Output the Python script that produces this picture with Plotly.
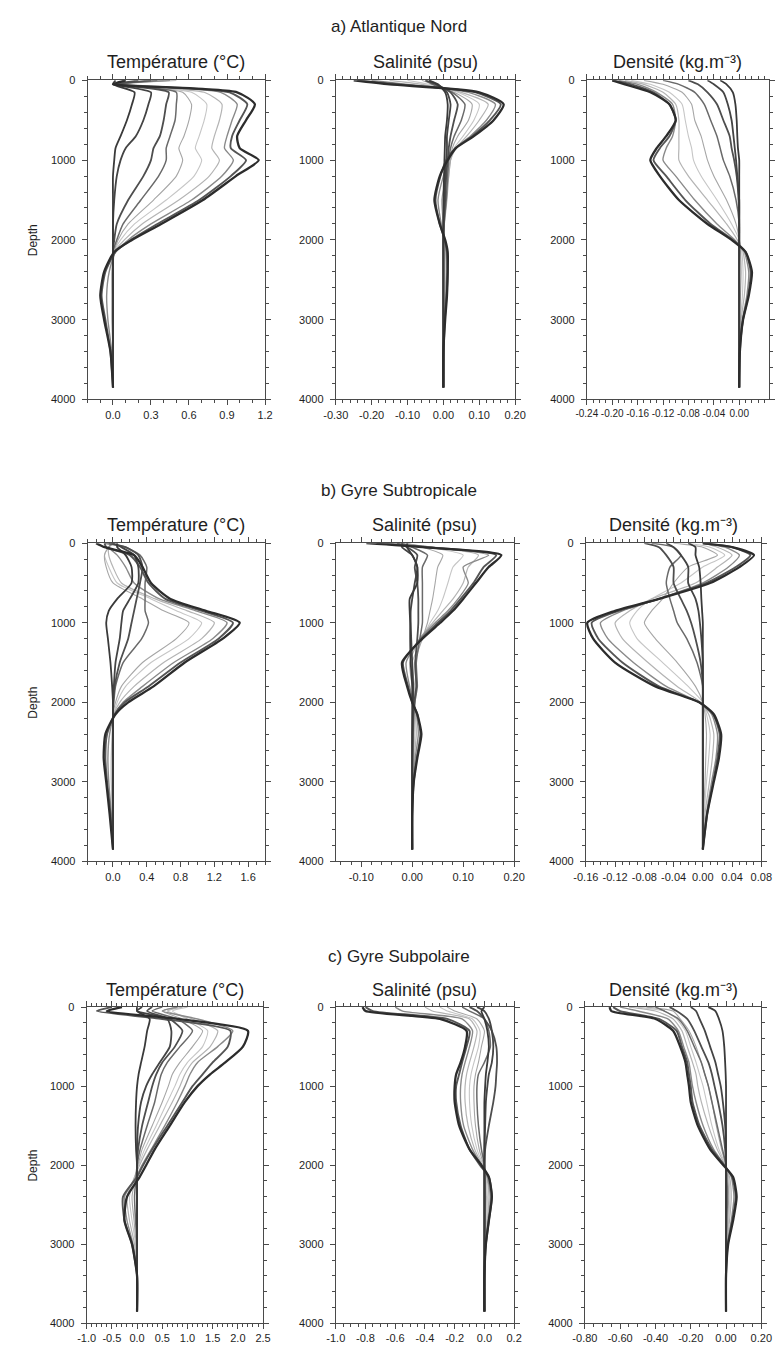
import plotly.graph_objects as go

# ---------------- data ----------------
DEPTH = [0, 50, 150, 300, 500, 700, 850, 1000, 1200, 1500, 1800, 2000, 2150, 2400, 2700, 3000, 3400, 3850]

REGIONS = ["a) Atlantique Nord", "b) Gyre Subtropicale", "c) Gyre Subpolaire"]
VARIABLES = ["Température (°C)", "Salinité (psu)", "Densité (kg.m⁻³)"]

temp_nord = [
    [0.02, 0.0, 0.17, 0.15, 0.11, 0.06, 0.02, 0.01, 0.0, 0.0, 0.0, 0.0, 0.0, 0.0, 0.0, 0.0, 0.0, 0.0],
    [0.1, 0.02, 0.30, 0.28, 0.24, 0.18, 0.10, 0.06, 0.03, 0.01, 0.0, 0.0, 0.0, 0.0, 0.0, 0.0, 0.0, 0.0],
    [0.2, 0.03, 0.44, 0.42, 0.40, 0.37, 0.32, 0.30, 0.24, 0.12, 0.03, 0.01, 0.0, 0.0, 0.0, 0.0, 0.0, 0.0],
    [0.35, 0.04, 0.50, 0.50, 0.49, 0.45, 0.42, 0.42, 0.36, 0.22, 0.08, 0.03, 0.0, 0.0, 0.0, 0.0, 0.0, 0.0],
    [0.4, 0.05, 0.55, 0.62, 0.60, 0.56, 0.52, 0.55, 0.50, 0.32, 0.12, 0.04, 0.01, 0.0, 0.0, 0.0, 0.0, 0.0],
    [0.45, 0.05, 0.62, 0.74, 0.72, 0.68, 0.65, 0.70, 0.64, 0.42, 0.17, 0.06, 0.01, 0.0, 0.0, 0.0, 0.0, 0.0],
    [0.5, 0.05, 0.72, 0.86, 0.84, 0.80, 0.78, 0.84, 0.76, 0.52, 0.23, 0.09, 0.01, -0.01, -0.01, -0.01, 0.0, 0.0],
    [0.45, 0.05, 0.85, 0.98, 0.94, 0.90, 0.88, 0.95, 0.86, 0.62, 0.30, 0.12, 0.02, -0.03, -0.05, -0.04, -0.01, 0.0],
    [0.3, 0.03, 0.92, 1.06, 1.00, 0.94, 0.93, 1.05, 0.93, 0.68, 0.35, 0.14, 0.02, -0.06, -0.09, -0.06, -0.02, 0.0],
    [0.1, 0.0, 0.98, 1.12, 1.05, 0.98, 1.00, 1.15, 0.97, 0.71, 0.38, 0.15, 0.01, -0.07, -0.10, -0.07, -0.02, 0.0],
]
sal_nord = [
    [-0.04, -0.015, 0.005, 0.012, 0.01, 0.005, 0.004, 0.003, 0.002, 0.0, 0.0, 0.0, 0.0, 0.0, 0.0, 0.0, 0.0, 0.0],
    [-0.05, -0.02, 0.01, 0.02, 0.015, 0.01, 0.01, 0.008, 0.005, 0.003, 0.0, 0.0, 0.0, 0.0, 0.0, 0.0, 0.0, 0.0],
    [-0.04, -0.02, 0.02, 0.04, 0.03, 0.02, 0.015, 0.012, 0.008, 0.005, 0.001, 0.0, 0.0, 0.0, 0.0, 0.0, 0.0, 0.0],
    [-0.05, -0.03, 0.025, 0.06, 0.05, 0.03, 0.02, 0.015, 0.012, 0.008, 0.002, 0.0, 0.0, 0.0, 0.0, 0.0, 0.0, 0.0],
    [-0.06, -0.03, 0.03, 0.08, 0.07, 0.04, 0.025, 0.02, 0.015, 0.01, 0.003, 0.0, 0.001, 0.001, 0.0, 0.0, 0.0, 0.0],
    [-0.10, -0.04, 0.04, 0.10, 0.085, 0.055, 0.03, 0.02, 0.015, 0.005, 0.0, 0.002, 0.003, 0.003, 0.002, 0.001, 0.0, 0.0],
    [-0.15, -0.06, 0.05, 0.125, 0.10, 0.065, 0.035, 0.02, 0.01, -0.005, 0.0, 0.004, 0.006, 0.007, 0.005, 0.002, 0.0, 0.0],
    [-0.20, -0.10, 0.07, 0.145, 0.12, 0.075, 0.035, 0.015, 0.0, -0.015, -0.006, 0.003, 0.008, 0.010, 0.007, 0.003, 0.001, 0.0],
    [-0.24, -0.12, 0.09, 0.16, 0.13, 0.08, 0.033, 0.008, -0.008, -0.022, -0.01, 0.004, 0.010, 0.012, 0.009, 0.004, 0.001, 0.0],
    [-0.25, -0.15, 0.10, 0.168, 0.14, 0.085, 0.035, 0.012, -0.01, -0.025, -0.01, 0.005, 0.012, 0.012, 0.010, 0.005, 0.0, 0.0],
]
dens_nord = [
    [-0.03, -0.02, -0.01, -0.006, -0.004, -0.003, -0.002, 0.0, 0.0, 0.0, 0.0, 0.0, 0.0, 0.0, 0.0, 0.0, 0.0, 0.0],
    [-0.05, -0.04, -0.025, -0.018, -0.012, -0.009, -0.007, -0.005, -0.003, 0.0, 0.0, 0.0, 0.0, 0.0, 0.0, 0.0, 0.0, 0.0],
    [-0.08, -0.065, -0.05, -0.035, -0.025, -0.015, -0.012, -0.008, -0.004, -0.001, 0.0, 0.0, 0.0, 0.0, 0.0, 0.0, 0.0, 0.0],
    [-0.12, -0.095, -0.07, -0.055, -0.045, -0.035, -0.03, -0.025, -0.015, -0.005, 0.0, 0.0, 0.0, 0.0, 0.0, 0.0, 0.0, 0.0],
    [-0.15, -0.12, -0.09, -0.075, -0.07, -0.06, -0.055, -0.05, -0.04, -0.02, -0.005, 0.0, 0.002, 0.003, 0.002, 0.001, 0.0, 0.0],
    [-0.17, -0.14, -0.11, -0.09, -0.085, -0.08, -0.075, -0.072, -0.06, -0.035, -0.012, 0.0, 0.004, 0.006, 0.005, 0.002, 0.0, 0.0],
    [-0.18, -0.15, -0.12, -0.10, -0.095, -0.095, -0.095, -0.095, -0.08, -0.05, -0.02, -0.003, 0.006, 0.010, 0.008, 0.003, 0.001, 0.0],
    [-0.19, -0.16, -0.13, -0.105, -0.10, -0.105, -0.115, -0.12, -0.10, -0.07, -0.035, -0.007, 0.008, 0.015, 0.012, 0.005, 0.001, 0.0],
    [-0.20, -0.17, -0.135, -0.11, -0.10, -0.11, -0.125, -0.135, -0.115, -0.085, -0.045, -0.01, 0.01, 0.018, 0.014, 0.006, 0.001, 0.0],
    [-0.20, -0.18, -0.14, -0.11, -0.10, -0.115, -0.13, -0.14, -0.125, -0.095, -0.05, -0.012, 0.01, 0.02, 0.015, 0.006, 0.001, 0.0],
]

temp_subtrop = [
    [0.05, 0.05, 0.15, 0.22, 0.22, 0.05, -0.05, -0.08, -0.06, -0.03, -0.01, 0.0, 0.0, 0.0, 0.0, 0.0, 0.0, 0.0],
    [0.0, 0.1, 0.25, 0.3, 0.3, 0.2, 0.12, 0.1, 0.08, 0.03, 0.01, 0.0, 0.0, 0.0, 0.0, 0.0, 0.0, 0.0],
    [-0.05, 0.15, 0.3, 0.35, 0.32, 0.28, 0.25, 0.22, 0.18, 0.08, 0.02, 0.0, 0.0, 0.0, 0.0, 0.0, 0.0, 0.0],
    [-0.1, 0.15, 0.32, 0.4, 0.38, 0.38, 0.38, 0.42, 0.34, 0.12, 0.03, 0.01, 0.0, 0.0, 0.0, 0.0, 0.0, 0.0],
    [0.0, -0.05, -0.1, -0.08, 0.0, 0.35, 0.6, 0.9, 0.75, 0.35, 0.1, 0.03, 0.0, 0.0, 0.0, 0.0, 0.0, 0.0],
    [0.0, -0.05, -0.1, -0.05, 0.05, 0.45, 0.75, 1.05, 0.9, 0.45, 0.15, 0.05, 0.01, 0.0, 0.0, 0.0, 0.0, 0.0],
    [0.0, -0.05, -0.05, 0.0, 0.1, 0.5, 0.88, 1.2, 1.05, 0.6, 0.25, 0.08, 0.01, -0.01, -0.02, -0.02, -0.01, 0.0],
    [0.0, -0.05, 0.05, 0.15, 0.25, 0.55, 0.98, 1.35, 1.18, 0.72, 0.35, 0.12, 0.02, -0.04, -0.06, -0.05, -0.02, 0.0],
    [-0.1, -0.08, 0.2, 0.32, 0.42, 0.62, 1.05, 1.42, 1.25, 0.8, 0.42, 0.14, 0.02, -0.07, -0.09, -0.07, -0.03, 0.0],
    [-0.2, -0.1, 0.25, 0.35, 0.45, 0.68, 1.1, 1.5, 1.3, 0.85, 0.48, 0.18, 0.03, -0.09, -0.11, -0.08, -0.04, 0.0],
]
sal_subtrop = [
    [-0.01, -0.01, 0.0, 0.01, 0.01, -0.005, -0.005, -0.004, -0.004, -0.003, 0.0, 0.0, 0.0, 0.0, 0.0, 0.0, 0.0, 0.0],
    [-0.02, -0.02, 0.0, 0.01, 0.005, 0.0, -0.003, -0.003, -0.002, 0.0, 0.002, 0.002, 0.001, 0.0, 0.0, 0.0, 0.0, 0.0],
    [-0.03, -0.01, 0.01, 0.005, 0.01, 0.012, 0.012, 0.012, 0.01, 0.006, 0.008, 0.004, 0.002, 0.001, 0.0, 0.0, 0.0, 0.0],
    [-0.02, 0.0, 0.03, 0.02, 0.02, 0.02, 0.02, 0.02, 0.015, 0.008, 0.01, 0.005, 0.003, 0.002, 0.001, 0.0, 0.0, 0.0],
    [-0.01, 0.02, 0.06, 0.05, 0.045, 0.04, 0.035, 0.03, 0.02, 0.005, 0.008, 0.006, 0.004, 0.003, 0.002, 0.0, 0.0, 0.0],
    [-0.02, 0.03, 0.10, 0.08, 0.07, 0.06, 0.05, 0.035, 0.02, 0.0, 0.005, 0.005, 0.005, 0.005, 0.003, 0.001, 0.0, 0.0],
    [-0.03, 0.04, 0.13, 0.11, 0.10, 0.08, 0.06, 0.04, 0.015, -0.005, 0.0, 0.003, 0.006, 0.008, 0.004, 0.001, 0.0, 0.0],
    [-0.05, 0.04, 0.15, 0.10, 0.11, 0.09, 0.07, 0.045, 0.015, -0.012, -0.005, 0.002, 0.008, 0.012, 0.006, 0.002, 0.0, 0.0],
    [-0.07, 0.03, 0.165, 0.14, 0.12, 0.095, 0.075, 0.05, 0.018, -0.018, -0.008, 0.0, 0.01, 0.016, 0.009, 0.003, 0.0, 0.0],
    [-0.09, 0.02, 0.175, 0.15, 0.125, 0.10, 0.08, 0.055, 0.02, -0.02, -0.01, 0.0, 0.01, 0.018, 0.01, 0.003, 0.0, 0.0],
]
dens_subtrop = [
    [-0.02, -0.01, -0.01, -0.005, -0.003, -0.002, -0.001, 0.0, 0.0, 0.0, 0.0, 0.0, 0.0, 0.0, 0.0, 0.0, 0.0, 0.0],
    [-0.05, -0.04, -0.03, -0.02, -0.02, -0.01, -0.006, -0.004, -0.002, 0.0, 0.0, 0.0, 0.0, 0.0, 0.0, 0.0, 0.0, 0.0],
    [-0.08, -0.06, -0.05, -0.04, -0.04, -0.03, -0.022, -0.016, -0.01, -0.003, 0.0, 0.0, 0.0, 0.0, 0.0, 0.0, 0.0, 0.0],
    [-0.07, -0.04, -0.03, -0.045, -0.05, -0.045, -0.04, -0.035, -0.022, -0.008, 0.0, 0.0, 0.0, 0.0, 0.0, 0.0, 0.0, 0.0],
    [-0.04, 0.0, 0.02, -0.02, -0.04, -0.055, -0.07, -0.08, -0.065, -0.035, -0.01, 0.0, 0.003, 0.005, 0.004, 0.003, 0.001, 0.0],
    [-0.02, 0.01, 0.03, 0.0, -0.03, -0.07, -0.09, -0.10, -0.09, -0.055, -0.02, 0.0, 0.005, 0.01, 0.008, 0.005, 0.002, 0.0],
    [0.0, 0.02, 0.04, 0.02, -0.01, -0.07, -0.10, -0.12, -0.11, -0.075, -0.035, -0.003, 0.008, 0.015, 0.013, 0.009, 0.003, 0.0],
    [0.0, 0.03, 0.05, 0.035, 0.0, -0.06, -0.11, -0.14, -0.13, -0.095, -0.05, -0.005, 0.012, 0.02, 0.018, 0.012, 0.005, 0.0],
    [0.0, 0.04, 0.065, 0.045, 0.005, -0.06, -0.115, -0.152, -0.143, -0.11, -0.06, -0.005, 0.014, 0.023, 0.02, 0.014, 0.006, 0.0],
    [0.0, 0.04, 0.07, 0.05, 0.01, -0.06, -0.12, -0.158, -0.15, -0.12, -0.065, -0.005, 0.015, 0.025, 0.022, 0.015, 0.006, 0.0],
]

temp_subpol = [
    [0.0, 0.0, 0.25, 0.2, 0.15, 0.08, 0.03, 0.0, -0.02, -0.03, -0.02, 0.0, 0.0, 0.0, 0.0, 0.0, 0.0, 0.0],
    [0.1, 0.0, 0.6, 0.68, 0.65, 0.45, 0.3, 0.18, 0.08, 0.02, 0.0, 0.0, 0.0, 0.0, 0.0, 0.0, 0.0, 0.0],
    [0.3, 0.2, 0.65, 0.9, 0.75, 0.5, 0.38, 0.3, 0.22, 0.1, 0.02, 0.0, 0.0, 0.0, 0.0, 0.0, 0.0, 0.0],
    [0.5, 0.3, 0.8, 1.1, 0.85, 0.6, 0.48, 0.42, 0.35, 0.2, 0.06, 0.0, -0.02, -0.05, -0.03, 0.0, 0.0, 0.0],
    [0.8, 0.5, 0.9, 1.3, 1.1, 0.85, 0.7, 0.62, 0.5, 0.3, 0.1, 0.02, -0.03, -0.1, -0.06, -0.02, 0.0, 0.0],
    [1.0, 0.7, 1.0, 1.4, 1.3, 1.0, 0.85, 0.75, 0.6, 0.38, 0.15, 0.03, -0.05, -0.15, -0.1, -0.03, 0.0, 0.0],
    [0.9, 0.6, 1.1, 1.6, 1.45, 1.1, 0.95, 0.85, 0.7, 0.45, 0.2, 0.05, -0.05, -0.2, -0.15, -0.05, 0.0, 0.0],
    [0.8, 0.5, 1.2, 1.9, 1.6, 1.2, 1.05, 0.95, 0.8, 0.55, 0.28, 0.1, -0.02, -0.25, -0.2, -0.08, 0.0, 0.0],
    [-0.5, -0.8, 0.5, 1.85, 1.8, 1.5, 1.3, 1.1, 0.9, 0.6, 0.3, 0.12, 0.0, -0.28, -0.25, -0.1, 0.0, 0.0],
    [-0.3, -0.6, 0.8, 2.2, 2.1, 1.75, 1.45, 1.2, 0.95, 0.65, 0.35, 0.18, 0.05, -0.2, -0.25, -0.1, 0.0, 0.0],
]
sal_subpol = [
    [0.0, -0.02, 0.0, 0.02, 0.03, 0.02, 0.01, 0.005, 0.0, 0.0, 0.0, 0.0, 0.0, 0.0, 0.0, 0.0, 0.0, 0.0],
    [-0.05, 0.0, 0.03, 0.05, 0.06, 0.05, 0.03, 0.02, 0.01, 0.005, 0.0, 0.0, 0.0, 0.0, 0.0, 0.0, 0.0, 0.0],
    [-0.1, -0.05, 0.0, 0.05, 0.08, 0.085, 0.08, 0.075, 0.06, 0.03, 0.005, 0.0, 0.0, 0.0, 0.0, 0.0, 0.0, 0.0],
    [-0.15, -0.1, 0.0, 0.03, 0.04, 0.0, -0.04, -0.05, -0.05, -0.04, -0.02, 0.0, 0.003, 0.006, 0.004, 0.001, 0.0, 0.0],
    [-0.25, -0.2, -0.05, 0.0, -0.02, -0.04, -0.06, -0.07, -0.07, -0.06, -0.035, -0.005, 0.005, 0.012, 0.008, 0.003, 0.0, 0.0],
    [-0.3, -0.25, -0.08, -0.03, -0.04, -0.07, -0.09, -0.1, -0.1, -0.085, -0.05, -0.01, 0.01, 0.02, 0.015, 0.005, 0.0, 0.0],
    [-0.4, -0.35, -0.1, -0.05, -0.07, -0.1, -0.12, -0.13, -0.13, -0.11, -0.065, -0.015, 0.015, 0.03, 0.02, 0.006, 0.0, 0.0],
    [-0.6, -0.55, -0.15, -0.08, -0.1, -0.13, -0.15, -0.16, -0.16, -0.14, -0.08, -0.02, 0.02, 0.04, 0.025, 0.008, 0.0, 0.0],
    [-0.8, -0.75, -0.25, -0.1, -0.12, -0.15, -0.17, -0.19, -0.19, -0.16, -0.1, -0.03, 0.03, 0.05, 0.03, 0.01, 0.0, 0.0],
    [-0.82, -0.8, -0.3, -0.12, -0.13, -0.16, -0.19, -0.2, -0.2, -0.17, -0.1, -0.02, 0.03, 0.05, 0.03, 0.01, 0.0, 0.0],
]
dens_subpol = [
    [-0.1, -0.06, -0.04, -0.02, -0.01, -0.005, -0.002, 0.0, 0.0, 0.0, 0.0, 0.0, 0.0, 0.0, 0.0, 0.0, 0.0, 0.0],
    [-0.2, -0.17, -0.15, -0.12, -0.09, -0.06, -0.045, -0.03, -0.018, -0.005, 0.0, 0.0, 0.0, 0.0, 0.0, 0.0, 0.0, 0.0],
    [-0.32, -0.28, -0.22, -0.18, -0.14, -0.1, -0.08, -0.065, -0.045, -0.02, -0.005, 0.0, 0.0, 0.0, 0.0, 0.0, 0.0, 0.0],
    [-0.4, -0.35, -0.27, -0.22, -0.18, -0.14, -0.12, -0.1, -0.08, -0.05, -0.02, 0.0, 0.005, 0.008, 0.005, 0.001, 0.0, 0.0],
    [-0.45, -0.3, -0.26, -0.21, -0.17, -0.14, -0.12, -0.1, -0.08, -0.055, -0.025, 0.0, 0.01, 0.015, 0.01, 0.003, 0.0, 0.0],
    [-0.5, -0.35, -0.28, -0.23, -0.2, -0.17, -0.15, -0.13, -0.11, -0.08, -0.04, 0.0, 0.015, 0.022, 0.015, 0.004, 0.0, 0.0],
    [-0.55, -0.4, -0.3, -0.25, -0.22, -0.19, -0.17, -0.16, -0.14, -0.1, -0.05, -0.005, 0.02, 0.03, 0.02, 0.005, 0.0, 0.0],
    [-0.6, -0.5, -0.33, -0.27, -0.24, -0.21, -0.2, -0.19, -0.17, -0.13, -0.07, -0.008, 0.03, 0.045, 0.03, 0.008, 0.0, 0.0],
    [-0.64, -0.6, -0.38, -0.28, -0.25, -0.22, -0.21, -0.2, -0.19, -0.15, -0.08, -0.01, 0.035, 0.055, 0.035, 0.01, 0.0, 0.0],
    [-0.66, -0.65, -0.4, -0.3, -0.26, -0.23, -0.22, -0.21, -0.2, -0.16, -0.09, -0.015, 0.04, 0.06, 0.04, 0.012, 0.0, 0.0],
]

# tick values / labels
temp_nord_ticks = [0.0, 0.3, 0.6, 0.9, 1.2]
temp_nord_labels = ["0.0", "0.3", "0.6", "0.9", "1.2"]
sal_nord_ticks = [-0.3, -0.2, -0.1, 0.0, 0.1, 0.2]
sal_nord_labels = ["-0.30", "-0.20", "-0.10", "0.00", "0.10", "0.20"]
dens_nord_ticks = [-0.24, -0.20, -0.16, -0.12, -0.08, -0.04, 0.0]
dens_nord_labels = ["-0.24", "-0.20", "-0.16", "-0.12", "-0.08", "-0.04", "0.00"]
temp_subtrop_ticks = [0.0, 0.4, 0.8, 1.2, 1.6]
temp_subtrop_labels = ["0.0", "0.4", "0.8", "1.2", "1.6"]
sal_subtrop_ticks = [-0.1, 0.0, 0.1, 0.2]
sal_subtrop_labels = ["-0.10", "0.00", "0.10", "0.20"]
dens_subtrop_ticks = [-0.16, -0.12, -0.08, -0.04, 0.0, 0.04, 0.08]
dens_subtrop_labels = ["-0.16", "-0.12", "-0.08", "-0.04", "0.00", "0.04", "0.08"]
temp_subpol_ticks = [-1.0, -0.5, 0.0, 0.5, 1.0, 1.5, 2.0, 2.5]
temp_subpol_labels = ["-1.0", "-0.5", "0.0", "0.5", "1.0", "1.5", "2.0", "2.5"]
sal_subpol_ticks = [-1.0, -0.8, -0.6, -0.4, -0.2, 0.0, 0.2]
sal_subpol_labels = ["-1.0", "-0.8", "-0.6", "-0.4", "-0.2", "0.0", "0.2"]
dens_subpol_ticks = [-0.8, -0.6, -0.4, -0.2, 0.0, 0.2]
dens_subpol_labels = ["-0.80", "-0.60", "-0.40", "-0.20", "0.00", "0.20"]
depth_ticks = [0, 1000, 2000, 3000, 4000]
depth_labels = ["0", "1000", "2000", "3000", "4000"]

# ---------------- styling ----------------
W, H = 782, 1361
FONT = "Liberation Sans, Arial, Helvetica, sans-serif"
TXT = "#1e1e1e"
AX = "#4a4a4a"
GREYS = ["#3a3a3a", "#444444", "#4e4e4e", "#6a6a6a", "#a6a6a6",
         "#c6c6c6", "#b4b4b4", "#8a8a8a", "#555555", "#2c2c2c"]
WIDTHS = [1.8, 1.8, 1.8, 1.5, 1.1, 1.1, 1.2, 1.4, 1.9, 2.3]
ORDER = [5, 6, 4, 7, 3, 8, 2, 1, 0, 9]

ROWS_Y = [(75, 397), (542, 863), (1010, 1329)]
COLS_X = [[(77, 260), (333, 518), (592, 780)],
          [(77, 260), (333, 517), (591, 772)],
          [(76, 258), (333, 517), (590, 772)]]
TITLE_Y = [21, 489, 959]
SUB_Y = [57, 524, 993]

panels = [
    (temp_nord, [-0.2, 1.2], temp_nord_ticks, temp_nord_labels, 0.1, 11),
    (sal_nord, [-0.3, 0.2], sal_nord_ticks, sal_nord_labels, 0.02, 11),
    (dens_nord, [-0.24, 0.047], dens_nord_ticks, dens_nord_labels, 0.01, 10),
    (temp_subtrop, [-0.3, 1.8], temp_subtrop_ticks, temp_subtrop_labels, 0.1, 11),
    (sal_subtrop, [-0.15, 0.2], sal_subtrop_ticks, sal_subtrop_labels, 0.02, 11),
    (dens_subtrop, [-0.16, 0.08], dens_subtrop_ticks, dens_subtrop_labels, 0.01, 11),
    (temp_subpol, [-1.0, 2.5], temp_subpol_ticks, temp_subpol_labels, 0.1, 11),
    (sal_subpol, [-1.0, 0.2], sal_subpol_ticks, sal_subpol_labels, 0.05, 11),
    (dens_subpol, [-0.8, 0.2], dens_subpol_ticks, dens_subpol_labels, 0.05, 11),
]

fig = go.Figure()
layout = {}
annotations = []

for i, (data, rng, tv, tt, mdt, fsz) in enumerate(panels):
    r, c = divmod(i, 3)
    x0, x1 = COLS_X[r][c]
    y0, y1 = ROWS_Y[r]
    xa = "x" if i == 0 else f"x{i+1}"
    ya = "y" if i == 0 else f"y{i+1}"
    for k in ORDER:
        fig.add_trace(go.Scatter(
            x=data[k], y=DEPTH, mode="lines",
            line=dict(color=GREYS[k], width=WIDTHS[k], shape="spline", smoothing=0.6),
            xaxis=xa, yaxis=ya, showlegend=False, hoverinfo="skip"))
    layout["xaxis" if i == 0 else f"xaxis{i+1}"] = dict(
        domain=[x0 / W, x1 / W], anchor=ya, range=rng,
        tickmode="array", tickvals=tv, ticktext=tt, tickangle=0,
        ticks="outside", ticklen=5, tickwidth=1, tickcolor=AX,
        showline=True, linecolor=AX, linewidth=1, mirror="allticks",
        showgrid=False, zeroline=False,
        tickfont=dict(size=fsz, color=TXT, family=FONT),
        minor=dict(tickmode="linear", tick0=0, dtick=mdt, ticks="outside",
                   ticklen=3, tickwidth=1, tickcolor=AX, showgrid=False),
    )
    layout["yaxis" if i == 0 else f"yaxis{i+1}"] = dict(
        domain=[1 - y1 / H, 1 - y0 / H], anchor=xa, range=[4000, 0],
        tickmode="array", tickvals=depth_ticks, ticktext=depth_labels,
        ticks="outside", ticklen=5, tickwidth=1, tickcolor=AX,
        showline=True, linecolor=AX, linewidth=1, mirror="allticks",
        showgrid=False, zeroline=False, ticklabelstandoff=4,
        tickfont=dict(size=11, color=TXT, family=FONT),
        minor=dict(tickmode="linear", tick0=0, dtick=200, ticks="outside",
                   ticklen=3, tickwidth=1, tickcolor=AX, showgrid=False),
    )
    annotations.append(dict(
        text=VARIABLES[c], x=(x0 + x1) / 2 / W, y=1 - SUB_Y[r] / H,
        xref="paper", yref="paper", xanchor="center", yanchor="middle",
        showarrow=False, font=dict(size=18, color=TXT, family=FONT)))
    if c == 0:
        annotations.append(dict(
            text="Depth", x=21 / W, y=1 - (y0 + y1) / 2 / H,
            xref="paper", yref="paper", xanchor="center", yanchor="middle",
            textangle=-90, showarrow=False,
            font=dict(size=12, color=TXT, family=FONT)))

for r in range(3):
    annotations.append(dict(
        text=REGIONS[r], x=398 / W, y=1 - TITLE_Y[r] / H,
        xref="paper", yref="paper", xanchor="center", yanchor="middle",
        showarrow=False, font=dict(size=17, color=TXT, family=FONT)))

fig.update_layout(
    width=W, height=H, margin=dict(l=0, r=0, t=0, b=0),
    paper_bgcolor="white", plot_bgcolor="white",
    font=dict(family=FONT, color=TXT),
    annotations=annotations, **layout)

fig.write_html("out.html", config={"displayModeBar": False},
               post_script="document.body.style.margin='0';")
